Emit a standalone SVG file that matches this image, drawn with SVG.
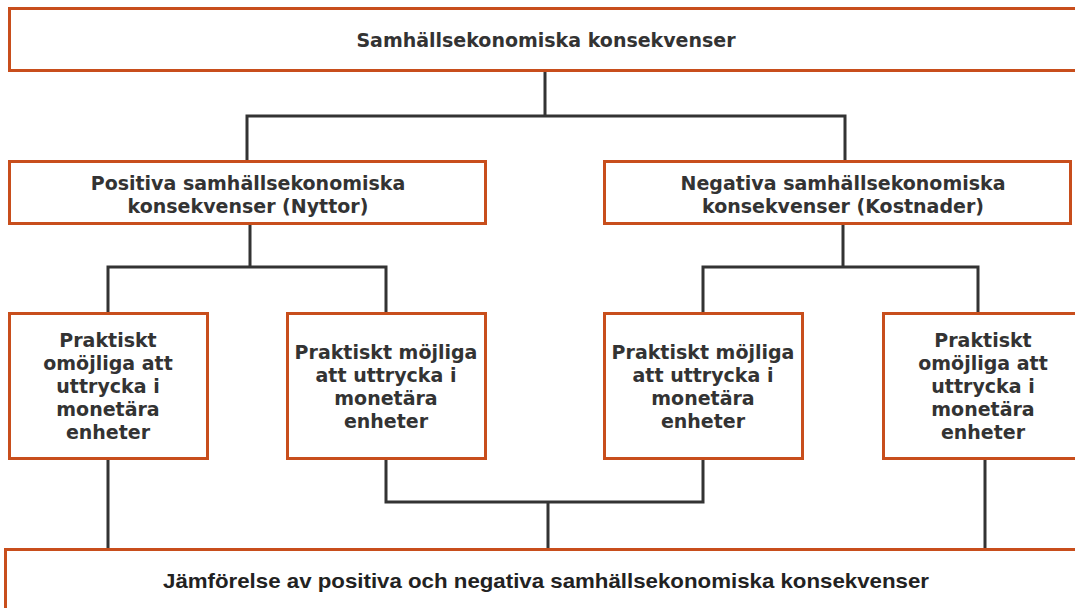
<svg xmlns="http://www.w3.org/2000/svg" width="1075" height="608" viewBox="0 0 1075 608">
<style>
.box{fill:#fff;stroke:#C84E1C;stroke-width:3}
.t{font-family:"DejaVu Sans",Verdana,sans-serif;font-weight:700;font-size:19px;fill:#333;text-anchor:middle}
.b{font-family:"Liberation Sans",Arial,sans-serif;font-weight:700;font-size:21px;fill:#222;text-anchor:middle}
.c{fill:none;stroke:#333;stroke-width:3}
</style>
<g id="connectors">
<path class="c" d="M545,70V116M247,160V116H845V160"/>
<path class="c" d="M250,223V267M108,313V267H386V313"/>
<path class="c" d="M843,223V267M703,313V267H978V313"/>
<path class="c" d="M108,458V549M985,458V549"/>
<path class="c" d="M386,458V502H703V458M548,502V549"/>
</g>
<g id="top"><rect class="box" x="9.5" y="8.5" width="1075" height="62"/>
<text class="t" x="546" y="47">Samhällsekonomiska konsekvenser</text></g>
<g id="pos"><rect class="box" x="9.5" y="161.5" width="476" height="62"/>
<text class="t" x="248" y="190">Positiva samhällsekonomiska</text>
<text class="t" x="248" y="213">konsekvenser (Nyttor)</text></g>
<g id="neg"><rect class="box" x="604.5" y="161.5" width="466" height="62"/>
<text class="t" x="843" y="190">Negativa samhällsekonomiska</text>
<text class="t" x="843" y="213">konsekvenser (Kostnader)</text></g>
<g id="p1"><rect class="box" x="9.5" y="313.5" width="198" height="145"/>
<text class="t" x="108" y="347">Praktiskt</text>
<text class="t" x="108" y="370">omöjliga att</text>
<text class="t" x="108" y="393">uttrycka i</text>
<text class="t" x="108" y="416">monetära</text>
<text class="t" x="108" y="439">enheter</text></g>
<g id="p2"><rect class="box" x="287.5" y="313.5" width="198" height="145"/>
<text class="t" x="386" y="359">Praktiskt möjliga</text>
<text class="t" x="386" y="382">att uttrycka i</text>
<text class="t" x="386" y="405">monetära</text>
<text class="t" x="386" y="428">enheter</text></g>
<g id="n1"><rect class="box" x="604.5" y="313.5" width="198" height="145"/>
<text class="t" x="703" y="359">Praktiskt möjliga</text>
<text class="t" x="703" y="382">att uttrycka i</text>
<text class="t" x="703" y="405">monetära</text>
<text class="t" x="703" y="428">enheter</text></g>
<g id="n2"><rect class="box" x="883.5" y="313.5" width="198" height="145"/>
<text class="t" x="983" y="347">Praktiskt</text>
<text class="t" x="983" y="370">omöjliga att</text>
<text class="t" x="983" y="393">uttrycka i</text>
<text class="t" x="983" y="416">monetära</text>
<text class="t" x="983" y="439">enheter</text></g>
<g id="bottom"><rect class="box" x="5.5" y="549.5" width="1080" height="70"/>
<text class="b" x="546" y="588" textLength="766" lengthAdjust="spacingAndGlyphs">Jämförelse av positiva och negativa samhällsekonomiska konsekvenser</text></g>
</svg>
